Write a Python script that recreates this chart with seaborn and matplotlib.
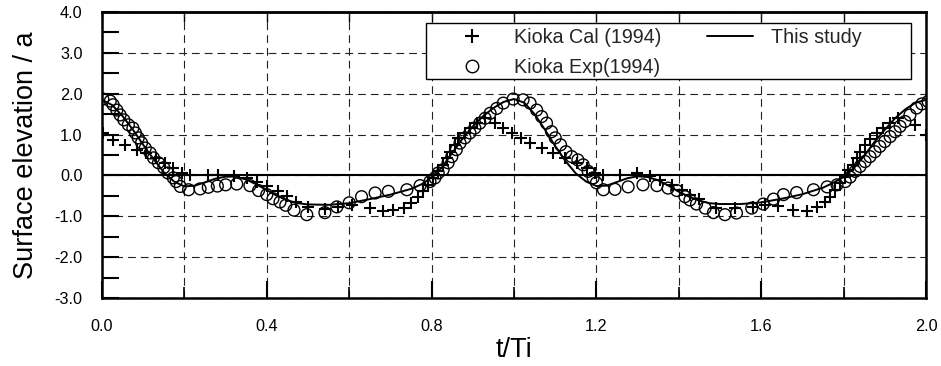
import matplotlib
matplotlib.use("Agg")
import matplotlib.pyplot as plt
import seaborn as sns
import pandas as pd
from matplotlib.lines import Line2D
from matplotlib.patches import Rectangle
from matplotlib.ticker import MultipleLocator, FormatStrFormatter

# ---------------- data ----------------
exp_t = [0.002, 0.020, 0.027, 0.036, 0.044, 0.053, 0.064, 0.075, 0.081, 0.088,
         0.096, 0.105, 0.117, 0.125, 0.137, 0.150, 0.160, 0.173, 0.180, 0.190,
         0.210, 0.238, 0.258, 0.280, 0.300, 0.327, 0.359, 0.380, 0.400, 0.415,
         0.432, 0.446, 0.466, 0.497, 0.541, 0.570, 0.600, 0.630, 0.663, 0.695,
         0.740, 0.772, 0.796, 0.808, 0.816, 0.828, 0.840, 0.849, 0.860, 0.869,
         0.881, 0.893, 0.905, 0.917, 0.930, 0.942, 0.958, 0.974, 0.998, 1.022,
         1.039, 1.055, 1.067, 1.079, 1.091, 1.100, 1.113, 1.126, 1.140, 1.155,
         1.168, 1.180, 1.192, 1.200, 1.217, 1.245, 1.277, 1.313, 1.347, 1.374,
         1.395, 1.415, 1.427, 1.443, 1.464, 1.484, 1.512, 1.540, 1.577, 1.605,
         1.630, 1.654, 1.686, 1.727, 1.760, 1.784, 1.804, 1.816, 1.828, 1.840,
         1.852, 1.864, 1.876, 1.888, 1.900, 1.913, 1.925, 1.937, 1.949, 1.961,
         1.977, 1.990, 2.005]
exp_v = [1.87, 1.82, 1.73, 1.60, 1.48, 1.36, 1.24, 1.16, 1.04, 0.92,
         0.80, 0.67, 0.55, 0.43, 0.31, 0.19, 0.06, -0.06, -0.15, -0.27,
         -0.35, -0.33, -0.29, -0.26, -0.23, -0.21, -0.25, -0.37, -0.47, -0.57,
         -0.65, -0.73, -0.85, -0.96, -0.91, -0.77, -0.67, -0.52, -0.43, -0.39,
         -0.35, -0.25, -0.15, -0.06, 0.06, 0.14, 0.31, 0.46, 0.63, 0.79,
         0.92, 1.04, 1.16, 1.28, 1.40, 1.52, 1.64, 1.77, 1.87, 1.85,
         1.77, 1.60, 1.44, 1.28, 1.07, 0.92, 0.75, 0.58, 0.46, 0.38,
         0.26, 0.10, -0.06, -0.18, -0.35, -0.34, -0.28, -0.23, -0.25, -0.31,
         -0.37, -0.52, -0.60, -0.70, -0.80, -0.91, -0.96, -0.92, -0.80, -0.70,
         -0.58, -0.47, -0.42, -0.35, -0.28, -0.23, -0.15, -0.04, 0.10, 0.22,
         0.34, 0.46, 0.58, 0.71, 0.83, 0.95, 1.07, 1.20, 1.32, 1.48,
         1.65, 1.75, 1.81]

cal_t = [0.003, 0.027, 0.056, 0.085, 0.108, 0.130, 0.153, 0.173, 0.193, 0.214,
         0.258, 0.282, 0.320, 0.351, 0.375, 0.400, 0.427, 0.448, 0.472, 0.500,
         0.541, 0.573, 0.606, 0.650, 0.682, 0.707, 0.732, 0.751, 0.767, 0.780,
         0.792, 0.804, 0.816, 0.828, 0.837, 0.845, 0.857, 0.865, 0.881, 0.893,
         0.910, 0.930, 0.954, 0.974, 0.994, 1.018, 1.039, 1.067, 1.095, 1.124,
         1.152, 1.176, 1.197, 1.217, 1.257, 1.298, 1.330, 1.355, 1.383, 1.407,
         1.427, 1.450, 1.490, 1.536, 1.580, 1.610, 1.641, 1.677, 1.710, 1.735,
         1.756, 1.767, 1.780, 1.791, 1.804, 1.811, 1.823, 1.832, 1.840, 1.852,
         1.864, 1.880, 1.896, 1.913, 1.932, 1.973, 2.000]
cal_v = [1.04, 0.87, 0.75, 0.63, 0.55, 0.43, 0.31, 0.19, 0.06, 0.01,
         0.01, 0.01, -0.01, -0.06, -0.15, -0.27, -0.39, -0.51, -0.64, -0.78,
         -0.82, -0.77, -0.72, -0.80, -0.86, -0.84, -0.80, -0.67, -0.52, -0.39,
         -0.23, -0.06, 0.10, 0.26, 0.43, 0.58, 0.75, 0.92, 1.04, 1.16,
         1.28, 1.40, 1.28, 1.16, 1.04, 0.92, 0.80, 0.67, 0.55, 0.43,
         0.31, 0.19, 0.07, 0.01, 0.02, 0.05, -0.01, -0.11, -0.23, -0.35,
         -0.47, -0.57, -0.79, -0.79, -0.77, -0.72, -0.76, -0.84, -0.86, -0.77,
         -0.64, -0.52, -0.35, -0.18, -0.03, 0.14, 0.26, 0.43, 0.58, 0.75,
         0.89, 1.04, 1.16, 1.28, 1.40, 1.24, 1.00]

line_t = [0.000, 0.025, 0.050, 0.075, 0.100, 0.125, 0.150, 0.175, 0.200, 0.225,
          0.250, 0.275, 0.300, 0.325, 0.350, 0.375, 0.400, 0.425, 0.450, 0.475,
          0.500, 0.550, 0.600, 0.650, 0.700, 0.750, 0.775, 0.800, 0.825, 0.850,
          0.875, 0.900, 0.925, 0.950, 0.975, 1.000, 1.025, 1.050, 1.075, 1.100,
          1.125, 1.150, 1.175, 1.200, 1.225, 1.250, 1.275, 1.300, 1.325, 1.350,
          1.375, 1.400, 1.425, 1.450, 1.475, 1.500, 1.550, 1.600, 1.650, 1.700,
          1.750, 1.775, 1.800, 1.825, 1.850, 1.875, 1.900, 1.925, 1.950, 1.975,
          2.000]
line_v = [1.85, 1.72, 1.45, 1.12, 0.75, 0.40, 0.08, -0.15, -0.27, -0.25,
          -0.17, -0.08, -0.03, -0.03, -0.10, -0.22, -0.36, -0.50, -0.61, -0.68,
          -0.71, -0.72, -0.68, -0.58, -0.47, -0.33, -0.22, -0.05, 0.20, 0.55,
          0.90, 1.20, 1.45, 1.65, 1.80, 1.87, 1.78, 1.50, 1.12, 0.72,
          0.35, 0.05, -0.15, -0.26, -0.25, -0.16, -0.07, -0.02, -0.04, -0.12,
          -0.25, -0.40, -0.52, -0.62, -0.68, -0.70, -0.70, -0.66, -0.57, -0.46,
          -0.30, -0.18, -0.04, 0.18, 0.48, 0.82, 1.12, 1.40, 1.62, 1.78,
          1.85]

x_ticks = [0.0, 0.4, 0.8, 1.2, 1.6, 2.0]
y_ticks = [4.0, 3.0, 2.0, 1.0, 0.0, -1.0, -2.0, -3.0]

label_cal = "Kioka Cal (1994)"
label_exp = "Kioka Exp(1994)"
label_line = "This study"

# ---------------- style ----------------
sns.set_theme(style="white")
plt.rcParams["font.family"] = ["Liberation Sans", "DejaVu Sans"]

W, H = 941, 366
fig = plt.figure(figsize=(W / 100, H / 100), dpi=100)
ax_l, ax_r, ax_t, ax_b = 102, 926, 12, 298
ax = fig.add_axes([ax_l / W, 1 - ax_b / H, (ax_r - ax_l) / W, (ax_b - ax_t) / H])

def ax_fx(px):
    return (px - ax_l) / (ax_r - ax_l)

def ax_fy(py):
    return (ax_b - py) / (ax_b - ax_t)

df_exp = pd.DataFrame({"t": exp_t, "v": exp_v})
df_cal = pd.DataFrame({"t": cal_t, "v": cal_v})
df_line = pd.DataFrame({"t": line_t, "v": line_v})

# grid
dash = (0, (7, 4.5))
ax.set_axisbelow(True)
ax.xaxis.set_major_locator(MultipleLocator(0.4))
ax.xaxis.set_minor_locator(MultipleLocator(0.2))
ax.yaxis.set_major_locator(MultipleLocator(1.0))
ax.yaxis.set_minor_locator(MultipleLocator(0.5))
ax.xaxis.grid(True, which="both", linestyle=dash, color="#222222", lw=0.8)
ax.yaxis.grid(True, which="major", linestyle=dash, color="#222222", lw=0.8)
ax.axhline(0, color="black", lw=1.5, zorder=2)

sns.lineplot(data=df_line, x="t", y="v", ax=ax, color="black", lw=1.4,
             estimator=None, zorder=3)
sns.scatterplot(data=df_exp, x="t", y="v", ax=ax, marker="o", s=72,
                facecolor="none", edgecolor="black", linewidth=1.0, zorder=4)
sns.scatterplot(data=df_cal, x="t", y="v", ax=ax, marker="+", s=80,
                color="black", linewidth=1.5, zorder=5)

ax.set_xlim(0, 2.0)
ax.set_ylim(-3.0, 4.0)
ax.set_xticks(x_ticks)
ax.set_yticks(y_ticks)
ax.xaxis.set_major_formatter(FormatStrFormatter("%.1f"))
ax.yaxis.set_major_formatter(FormatStrFormatter("%.1f"))

ax.tick_params(axis="x", which="major", direction="in", length=12, width=1.5,
               labelsize=11.7, pad=15, bottom=True, top=False, colors="black")
ax.tick_params(axis="x", which="minor", direction="in", length=8, width=1.2,
               bottom=True, top=False, colors="black")
ax.tick_params(axis="y", which="both", direction="in", length=12, width=1.5,
               labelsize=11.7, pad=14, left=True, right=False, colors="black")

top = ax.secondary_xaxis("top")
top.xaxis.set_major_locator(MultipleLocator(0.2))
top.tick_params(direction="in", length=7, width=1.0, labeltop=False,
                colors="black")
top.spines["top"].set_linewidth(1.8)

for sp in ax.spines.values():
    sp.set_linewidth(1.8)
    sp.set_color("black")

ax.set_xlabel("t/Ti", fontsize=19.5, color="black")
ax.set_ylabel("Surface elevation / a", fontsize=19.5, color="black")
ax.xaxis.set_label_coords(0.5, -0.135)
ax.yaxis.set_label_coords(-0.077, 0.5)

# legend frame (box spans wider than the legend's own padding)
frame = Rectangle((ax_fx(426), ax_fy(79)), ax_fx(911) - ax_fx(426),
                  ax_fy(23) - ax_fy(79), transform=ax.transAxes,
                  facecolor="white", edgecolor="black", lw=1.0, zorder=9)
ax.add_patch(frame)

handles = [
    Line2D([], [], marker="+", ls="none", color="black", markersize=10, mew=1.5),
    Line2D([], [], marker="o", ls="none", markerfacecolor="none",
           markeredgecolor="black", markersize=9, mew=1.0),
    Line2D([], [], color="black", lw=1.4),
]
fs = 14.2
bp = 0.2
leg = ax.legend(handles, [label_cal, label_exp, label_line], ncol=2,
                loc="upper left",
                bbox_to_anchor=(ax_fx(449.5 - bp * fs * 100 / 72), ax_fy(24)),
                borderaxespad=0, fontsize=fs, frameon=False, borderpad=bp,
                handlelength=2.3, handletextpad=0.95, columnspacing=2.35,
                labelspacing=0.55)
leg.set_zorder(10)

fig.savefig("out.png", dpi=100)
